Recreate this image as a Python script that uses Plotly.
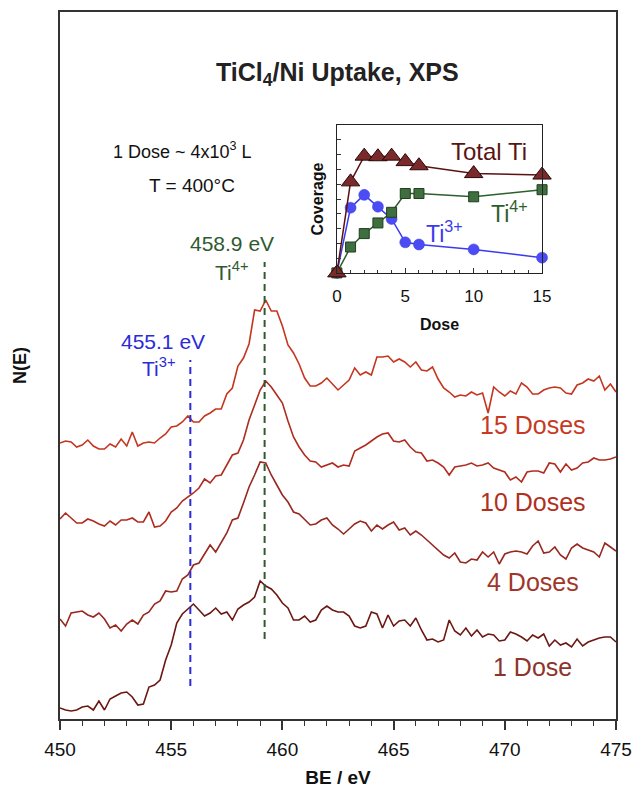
import plotly.graph_objects as go

# ---- main XPS spectra (BE grid, 0.25 eV) ----
be = [450 + 0.25 * i for i in range(101)]

n_15 = [276, 278, 277, 272, 274, 279, 273, 270, 270, 275, 272, 280, 273, 287, 273, 276, 277, 276, 281, 285,
        292, 293, 297, 303, 297, 297, 303, 306, 310, 310, 325, 331, 353, 361, 375, 409, 408, 419, 408, 408,
        393, 374, 366, 355, 341, 333, 333, 336, 341, 335, 329, 334, 339, 351, 344, 347, 344, 362, 362, 363,
        357, 360, 357, 352, 357, 349, 348, 352, 340, 331, 327, 322, 324, 323, 327, 324, 326, 306, 332, 327,
        323, 328, 325, 336, 332, 325, 325, 329, 331, 332, 331, 326, 325, 334, 336, 340, 338, 343, 329, 335, 327]

n_10 = [200, 206, 201, 196, 196, 200, 198, 195, 193, 198, 194, 199, 199, 201, 197, 197, 207, 192, 193, 198,
        207, 211, 218, 222, 226, 231, 240, 236, 243, 244, 254, 264, 266, 279, 299, 314, 329, 338, 332, 324,
        316, 298, 282, 272, 264, 258, 257, 252, 254, 256, 252, 254, 253, 268, 271, 274, 278, 282, 285, 286,
        278, 277, 279, 272, 267, 266, 258, 259, 256, 252, 244, 252, 253, 254, 256, 253, 254, 256, 251, 249,
        247, 239, 242, 237, 247, 248, 248, 246, 256, 255, 247, 255, 249, 251, 256, 257, 261, 259, 259, 260, 262]

n_4 = [100, 93, 106, 107, 108, 104, 102, 106, 100, 91, 94, 88, 95, 99, 95, 104, 107, 115, 118, 128,
       127, 128, 140, 144, 154, 156, 165, 174, 167, 177, 186, 199, 201, 216, 232, 244, 257, 256, 244, 234,
       224, 217, 207, 205, 200, 194, 195, 199, 201, 194, 190, 185, 190, 195, 198, 196, 188, 194, 190, 194,
       197, 189, 191, 184, 188, 184, 179, 174, 169, 164, 161, 166, 157, 156, 160, 159, 167, 162, 167, 155,
       165, 167, 168, 167, 165, 173, 178, 166, 167, 172, 164, 160, 171, 175, 171, 169, 167, 162, 176, 172, 168]

n_1 = [11, 9, 8, 9, 12, 13, 9, 18, 9, 20, 23, 26, 27, 22, 14, 15, 32, 34, 39, 59,
       74, 96, 105, 110, 115, 109, 103, 106, 111, 105, 107, 99, 110, 114, 117, 122, 138, 133, 130, 124,
       116, 111, 99, 99, 103, 97, 99, 109, 113, 109, 107, 107, 103, 93, 91, 93, 107, 105, 91, 104,
       93, 98, 99, 93, 101, 89, 79, 80, 77, 79, 99, 88, 84, 91, 83, 89, 82, 85, 84, 78,
       79, 87, 85, 82, 78, 84, 81, 85, 73, 79, 74, 76, 72, 80, 73, 77, 79, 81, 82, 82, 77]

spectra_names = ["15 Doses", "10 Doses", "4 Doses", "1 Dose"]
spectra_vals = [n_15, n_10, n_4, n_1]
spectra_colors = ["#c4361f", "#b02c1e", "#962820", "#6c1812"]
label_colors = ["#c63a24", "#b0301f", "#a0362a", "#8c342a"]
label_y = [294, 217, 137, 52]

# marker lines for peak positions
ti3_be = [455.86, 455.86]
ti3_n = [33, 359]
ti4_be = [459.2, 459.2]
ti4_n = [80, 457]

# ---- inset: coverage vs dose ----
dose = [0, 1, 2, 3, 4, 5, 6, 10, 15]
total_ti = [0, 0.616, 0.79, 0.786, 0.79, 0.753, 0.725, 0.672, 0.662]
ti4 = [0, 0.175, 0.266, 0.338, 0.41, 0.537, 0.537, 0.515, 0.563]
ti3 = [0, 0.441, 0.528, 0.448, 0.365, 0.207, 0.192, 0.159, 0.103]

FONT = "Liberation Sans, Arial, Helvetica, sans-serif"

fig = go.Figure()

for name, vals, col in zip(spectra_names, spectra_vals, spectra_colors):
    fig.add_trace(go.Scatter(x=be, y=vals, mode="lines", name=name,
                             line=dict(color=col, width=1.6), showlegend=False))

fig.add_trace(go.Scatter(x=ti3_be, y=ti3_n, mode="lines", showlegend=False,
                         line=dict(color="#2b2bd8", width=2, dash="7px,5px")))
fig.add_trace(go.Scatter(x=ti4_be, y=ti4_n, mode="lines", showlegend=False,
                         line=dict(color="#2f5a2f", width=2, dash="7px,5px")))

# inset traces
fig.add_trace(go.Scatter(x=dose, y=ti3, mode="lines+markers", xaxis="x2", yaxis="y2",
                         showlegend=False, cliponaxis=False,
                         line=dict(color="#3a3af0", width=1.5),
                         marker=dict(symbol="circle", size=11, color="#4c4cf5",
                                     line=dict(color="#3a3ae0", width=0.5))))
fig.add_trace(go.Scatter(x=dose, y=ti4, mode="lines+markers", xaxis="x2", yaxis="y2",
                         showlegend=False, cliponaxis=False,
                         line=dict(color="#2d5e2d", width=1.5),
                         marker=dict(symbol="square", size=10, color="#3f6e3f",
                                     line=dict(color="#1f3f1f", width=1))))
fig.add_trace(go.Scatter(x=dose, y=total_ti, mode="lines+markers", xaxis="x2", yaxis="y2",
                         showlegend=False, cliponaxis=False,
                         line=dict(color="#5a1212", width=1.5),
                         marker=dict(symbol="triangle-up", size=16, color="#7a2a2a",
                                     line=dict(color="#2a0808", width=1))))

ann = []
for name, col, yv in zip(spectra_names, label_colors, label_y):
    ann.append(dict(x=471.26, y=yv, xref="x", yref="y", text=name, showarrow=False,
                    font=dict(family=FONT, size=25, color=col)))

ann += [
    dict(x=462.48, y=645, xref="x", yref="y", text="<b>TiCl<sub>4</sub>/Ni Uptake, XPS</b>",
         showarrow=False, font=dict(family=FONT, size=25, color="#222")),
    dict(x=455.5, y=569, xref="x", yref="y", text="1 Dose ~ 4x10<sup>3</sup> L",
         showarrow=False, font=dict(family=FONT, size=18, color="#111")),
    dict(x=455.95, y=534, xref="x", yref="y", text="T = 400°C",
         showarrow=False, font=dict(family=FONT, size=19, color="#111")),
    dict(x=457.75, y=476, xref="x", yref="y", text="458.9 eV",
         showarrow=False, font=dict(family=FONT, size=21, color="#2f5a2f")),
    dict(x=457.7, y=448, xref="x", yref="y", text="Ti<sup>4+</sup>",
         showarrow=False, font=dict(family=FONT, size=21, color="#2f5a2f")),
    dict(x=454.64, y=378, xref="x", yref="y", text="455.1 eV",
         showarrow=False, font=dict(family=FONT, size=21, color="#2b2bd8")),
    dict(x=454.41, y=352, xref="x", yref="y", text="Ti<sup>3+</sup>",
         showarrow=False, font=dict(family=FONT, size=21, color="#2b2bd8")),
    dict(x=11.1, y=0.82, xref="x2", yref="y2", text="Total Ti",
         showarrow=False, font=dict(family=FONT, size=24, color="#5a1414")),
    dict(x=12.6, y=0.41, xref="x2", yref="y2", text="Ti<sup>4+</sup>",
         showarrow=False, font=dict(family=FONT, size=23, color="#2d5e2d")),
    dict(x=7.9, y=0.28, xref="x2", yref="y2", text="Ti<sup>3+</sup>",
         showarrow=False, font=dict(family=FONT, size=23, color="#3a3af0")),
]

fig.update_layout(
    width=636, height=793,
    margin=dict(l=60, r=20, t=12, b=74),
    paper_bgcolor="white", plot_bgcolor="white",
    font=dict(family=FONT, color="#111"),
    annotations=ann,
    xaxis=dict(range=[450, 475], dtick=5, tick0=450, ticks="outside", ticklen=9,
               tickwidth=1.5, tickcolor="#333", ticklabelstandoff=3,
               minor=dict(dtick=1, ticks="outside", ticklen=5, tickwidth=1.2, tickcolor="#333"),
               showline=True, linecolor="#333", linewidth=1.5, mirror=True,
               showgrid=False, zeroline=False, automargin=False,
               tickfont=dict(size=19, family=FONT, color="#111"),
               title=dict(text="<b>BE / eV</b>", font=dict(size=19, family=FONT, color="#111"),
                          standoff=12)),
    yaxis=dict(range=[0, 707], showticklabels=False, ticks="",
               showline=True, linecolor="#333", linewidth=1.5, mirror=True,
               showgrid=False, zeroline=False, automargin=False,
               title=dict(text="<b>N(E)</b>", font=dict(size=18, family=FONT, color="#111"),
                          standoff=27)),
    xaxis2=dict(domain=[0.498, 0.867], anchor="y2", range=[0, 15],
                tickvals=[0, 5, 10, 15], ticks="inside", ticklen=5, tickcolor="#333",
                ticklabelstandoff=8,
                minor=dict(tickvals=list(range(16)), ticks="inside", ticklen=3, tickcolor="#333"),
                showline=True, linecolor="#222", linewidth=1.2, mirror=True,
                showgrid=False, zeroline=False,
                tickfont=dict(size=17, family=FONT, color="#111"),
                title=dict(text="<b>Dose</b>", font=dict(size=16, family=FONT, color="#111"),
                           standoff=13)),
    yaxis2=dict(domain=[0.631, 0.840], anchor="x2", range=[0, 1],
                dtick=0.1, ticks="inside", ticklen=4, tickcolor="#333",
                showticklabels=False,
                showline=True, linecolor="#222", linewidth=1.2, mirror=True,
                showgrid=False, zeroline=False,
                title=dict(text="<b>Coverage</b>", font=dict(size=16, family=FONT, color="#111"),
                           standoff=8)),
)

fig.write_html("out.html",
               config={"displayModeBar": False},
               post_script="document.body.style.margin='0';document.body.style.padding='0';")
